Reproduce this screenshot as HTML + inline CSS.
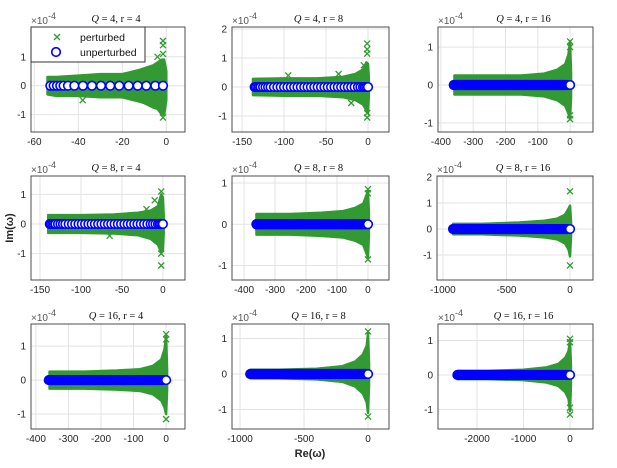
<!DOCTYPE html>
<html><head><meta charset="utf-8"><style>
body{margin:0;background:#fff}
svg{display:block;font-family:"Liberation Sans",sans-serif}
</style></head><body>
<svg id="chart" width="617" height="468" viewBox="0 0 617 468"></svg>
<script>
// ---- data (Im in units of 1e-4) ----
const titles = ["4, r = 4","4, r = 8","4, r = 16","8, r = 4","8, r = 8","8, r = 16","16, r = 4","16, r = 8","16, r = 16"];
const p1Unpert = [-52.7,-51.2,-49.7,-48.2,-46.7,-44.7,-41.8,-37.9,-33.8,-29.7,-25.5,-21.4,-17.1,-13,-9.1,-5,-1.5];
const p2Unpert = [-135,-134,-132,-130,-128,-125,-122,-119,-116,-112,-108,-104,-100,-96,-92,-88,-84,-80,-76,-72,-68,-64,-60,-56,-52,-48,-44,-40,-36,-32,-28,-24,-20,-16,-12,-9,-6,-4,-2,0];
const p3Unpert = [-360,-350,-340,-330,-320,-310,-300,-290,-280,-270,-260,-250,-240,-230,-220,-210,-200,-190,-180,-170,-160,-150,-140,-130,-120,-110,-100,-90,-80,-70,-60,-50,-40,-30,-20,-10,0];
const p4Unpert = [-138,-137,-135,-133,-131,-128,-125,-122,-119,-115,-111,-107,-103,-99,-95,-91,-87,-83,-79,-75,-71,-67,-63,-59,-55,-51,-47,-43,-39,-35,-31,-27,-23,-19,-15,-12,-9,-6,-4,-2,0];
const p5Unpert = [-360,-350,-340,-330,-320,-310,-300,-290,-280,-270,-260,-250,-240,-230,-220,-210,-200,-190,-180,-170,-160,-150,-140,-130,-120,-110,-100,-90,-80,-70,-60,-50,-40,-30,-20,-10,0];
const p6Unpert = [-920,-890,-860,-830,-800,-770,-740,-710,-680,-650,-620,-590,-560,-530,-500,-470,-440,-410,-380,-350,-320,-290,-260,-230,-200,-170,-140,-110,-80,-50,-20,0];
const p7Unpert = [-360,-350,-340,-330,-320,-310,-300,-290,-280,-270,-260,-250,-240,-230,-220,-210,-200,-190,-180,-170,-160,-150,-140,-130,-120,-110,-100,-90,-80,-70,-60,-50,-40,-30,-20,-10,0];
const p8Unpert = [-920,-890,-860,-830,-800,-770,-740,-710,-680,-650,-620,-590,-560,-530,-500,-470,-440,-410,-380,-350,-320,-290,-260,-230,-200,-170,-140,-110,-80,-50,-20,0];
const p9Unpert = [-2420,-2340,-2260,-2180,-2100,-2020,-1940,-1860,-1780,-1700,-1620,-1540,-1460,-1380,-1300,-1220,-1140,-1060,-980,-900,-820,-740,-660,-580,-500,-420,-340,-260,-180,-100,-40,0];
const p1EnvX = [-54,-50,-40,-30,-20,-12,-10,-6,-4,-2,-1,0];
const p1EnvTop = [0.3,0.3,0.35,0.4,0.4,0.55,0.6,0.7,0.8,0.9,0.9,0.5];
const p1EnvBot = [-0.3,-0.35,-0.35,-0.4,-0.4,-0.55,-0.6,-0.75,-0.8,-1.0,-1.0,-0.5];
const p2EnvX = [-137,-100,-60,-30,-15,-6,-2,0,1];
const p2EnvTop = [0.28,0.3,0.3,0.35,0.45,0.6,0.85,0.8,0.3];
const p2EnvBot = [-0.28,-0.3,-0.3,-0.35,-0.45,-0.6,-0.8,-0.9,-0.3];
const p3EnvX = [-358,-250,-150,-80,-40,-15,-5,0,3];
const p3EnvTop = [0.25,0.25,0.25,0.3,0.4,0.55,0.8,1.15,0.3];
const p3EnvBot = [-0.25,-0.25,-0.25,-0.3,-0.4,-0.55,-0.75,-0.9,-0.3];
const p4EnvX = [-140,-100,-60,-30,-15,-6,-2,0,1];
const p4EnvTop = [0.3,0.3,0.32,0.38,0.45,0.6,1.0,0.9,0.3];
const p4EnvBot = [-0.3,-0.3,-0.32,-0.38,-0.5,-0.7,-0.95,-0.9,-0.3];
const p5EnvX = [-360,-250,-150,-80,-40,-15,-5,0,3];
const p5EnvTop = [0.25,0.25,0.28,0.32,0.4,0.5,0.7,0.8,0.3];
const p5EnvBot = [-0.25,-0.25,-0.28,-0.32,-0.4,-0.5,-0.7,-0.8,-0.3];
const p6EnvX = [-920,-700,-400,-200,-100,-40,-10,0,8];
const p6EnvTop = [0.2,0.2,0.25,0.32,0.4,0.55,0.8,0.9,0.3];
const p6EnvBot = [-0.2,-0.2,-0.25,-0.32,-0.4,-0.55,-0.8,-1.05,-0.3];
const p7EnvX = [-358,-250,-150,-80,-40,-15,-5,0,3];
const p7EnvTop = [0.25,0.25,0.28,0.32,0.42,0.6,0.9,1.3,0.3];
const p7EnvBot = [-0.25,-0.25,-0.28,-0.32,-0.42,-0.6,-0.8,-1.0,-0.3];
const p8EnvX = [-920,-700,-400,-200,-100,-40,-10,0,8];
const p8EnvTop = [0.12,0.12,0.15,0.22,0.35,0.55,0.8,1.15,0.3];
const p8EnvBot = [-0.12,-0.12,-0.15,-0.22,-0.35,-0.55,-0.8,-1.1,-0.3];
const p9EnvX = [-2420,-1800,-1000,-500,-250,-100,-30,0,20];
const p9EnvTop = [0.12,0.12,0.15,0.22,0.32,0.5,0.7,1.0,0.3];
const p9EnvBot = [-0.12,-0.12,-0.15,-0.22,-0.32,-0.5,-0.7,-1.05,-0.3];
const p1OutX = [-1.5,-1.5,-1.5,-1.5,-38,-4,-4]; const p1OutY = [1.55,1.4,1.1,-1.1,-0.5,-0.6,1.0];
const p2OutX = [-1,-1,-1,-1,-1,-95,-20,-35,-5]; const p2OutY = [1.5,1.3,1.15,-1.05,-0.9,0.4,-0.55,0.45,0.75];
const p3OutX = [0,0,0,0]; const p3OutY = [1.15,1.0,-0.9,-0.8];
const p4OutX = [-2,-2,-2,-20,-65,-10]; const p4OutY = [1.1,-1.0,-1.4,0.5,-0.4,0.8];
const p5OutX = [0,0,0]; const p5OutY = [0.85,0.75,-0.85];
const p6OutX = [0,0]; const p6OutY = [1.45,-1.4];
const p7OutX = [0,0,0]; const p7OutY = [1.35,1.2,-1.15];
const p8OutX = [0,0]; const p8OutY = [1.2,-1.2];
const p9OutX = [0,0,0,0]; const p9OutY = [1.05,0.95,-1.15,-0.95];
const p1XTicks=[-60,-40,-20,0], p2XTicks=[-150,-100,-50,0], p3XTicks=[-400,-300,-200,-100,0];
const p4XTicks=[-150,-100,-50,0], p5XTicks=[-400,-300,-200,-100,0], p6XTicks=[-1000,-500,0];
const p7XTicks=[-400,-300,-200,-100,0], p8XTicks=[-1000,-500,0], p9XTicks=[-2000,-1000,0];
const p1YTicks=[-1,0,1], p2YTicks=[-1,0,1,2], p3YTicks=[-1,0,1], p4YTicks=[-1,0,1], p5YTicks=[-1,0,1], p6YTicks=[-1,0,1,2], p7YTicks=[-1,0,1], p8YTicks=[-1,0,1], p9YTicks=[-1,0,1];

// ---- layout ----
const boxes=[[31,185,27,132],[232,389,27,132],[438,593,27,132],[31,185,176,280],[232,389,176,280],[437,593,176,280],[31,185,324,429],[232,389,324,429],[438,593,324,429]];
const xlims=[[-61.5,8.5],[-162,25],[-409,71],[-161,27],[-439,68],[-1047,181],[-415,58],[-1063,164],[-2839,495]];
const ylims=[[-1.6,2.03],[-1.55,2.07],[-1.24,1.53],[-1.89,1.62],[-1.35,1.17],[-1.96,2.04],[-1.44,1.65],[-1.55,1.41],[-1.57,1.48]];
const solidBand=[false,false,true,false,true,true,true,true,true];
const panels=[
 [p1Unpert,p1EnvX,p1EnvTop,p1EnvBot,p1OutX,p1OutY,p1XTicks,p1YTicks],
 [p2Unpert,p2EnvX,p2EnvTop,p2EnvBot,p2OutX,p2OutY,p2XTicks,p2YTicks],
 [p3Unpert,p3EnvX,p3EnvTop,p3EnvBot,p3OutX,p3OutY,p3XTicks,p3YTicks],
 [p4Unpert,p4EnvX,p4EnvTop,p4EnvBot,p4OutX,p4OutY,p4XTicks,p4YTicks],
 [p5Unpert,p5EnvX,p5EnvTop,p5EnvBot,p5OutX,p5OutY,p5XTicks,p5YTicks],
 [p6Unpert,p6EnvX,p6EnvTop,p6EnvBot,p6OutX,p6OutY,p6XTicks,p6YTicks],
 [p7Unpert,p7EnvX,p7EnvTop,p7EnvBot,p7OutX,p7OutY,p7XTicks,p7YTicks],
 [p8Unpert,p8EnvX,p8EnvTop,p8EnvBot,p8OutX,p8OutY,p8XTicks,p8YTicks],
 [p9Unpert,p9EnvX,p9EnvTop,p9EnvBot,p9OutX,p9OutY,p9XTicks,p9YTicks]];

const NS="http://www.w3.org/2000/svg";
const svg=document.getElementById('chart');
function mk(tag,attrs,parent){const e=document.createElementNS(NS,tag);for(const k in attrs)e.setAttribute(k,attrs[k]);(parent||svg).appendChild(e);return e;}
const GREEN="#339933", BLUE="#0000ff";
function drawX(g,cx,cy,s){return mk('path',{d:`M${cx-s},${cy-s}L${cx+s},${cy+s}M${cx-s},${cy+s}L${cx+s},${cy-s}`,stroke:GREEN,'stroke-width':1.3,fill:'none'},g);}

panels.forEach((pd,i)=>{
 const [L,R,T,B]=boxes[i], xl=xlims[i], yl=ylims[i];
 const sx=v=>L+(v-xl[0])/(xl[1]-xl[0])*(R-L);
 const sy=v=>B-(v-yl[0])/(yl[1]-yl[0])*(B-T);
 const g=mk('g',{});
 
 
 const [un,ex,et,eb,ox,oy,xt,yt]=pd;
 xt.forEach(v=>{const l=mk('line',{x1:sx(v),x2:sx(v),y1:T,y2:B,stroke:'#e3e3e3','stroke-width':1},g);});
 yt.forEach(v=>{const l=mk('line',{x1:L,x2:R,y1:sy(v),y2:sy(v),stroke:'#e3e3e3','stroke-width':1},g);});
 let d='M'+ex.map((v,k)=>sx(v)+','+sy(et[k])).join('L');
 for(let k=ex.length-1;k>=0;k--) d+='L'+sx(ex[k])+','+sy(eb[k]);
 const env=mk('path',{d:d+'Z',fill:GREEN,stroke:GREEN,'stroke-width':2.5,'stroke-linejoin':'round'},g);
 
 
 ox.forEach((v,k)=>{const p=drawX(g,sx(v),sy(oy[k]),3);});
 const last=un.length-1;
 un.forEach((v,k)=>{ if(k===last) return; const c=mk('circle',{cx:sx(v),cy:sy(0),r:4.3,fill:'#fff',stroke:BLUE,'stroke-width':1.6},g);});
 if(solidBand[i]){
   const x0=sx(Math.min(...un)), x1=sx(un[last-1]);
   const b=mk('rect',{x:x0-5.1,y:sy(0)-5.1,width:x1-x0+10.2,height:10.2,rx:5.1,fill:BLUE},g);
   
   
 }
 const lc=mk('circle',{cx:sx(un[last]),cy:sy(0),r:4.3,fill:'#fff',stroke:BLUE,'stroke-width':1.6},g);
 
 
 const bx=mk('rect',{x:L,y:T,width:R-L,height:B-T,fill:'none',stroke:'#4d4d4d','stroke-width':1},g);
 
 
 xt.forEach(v=>{const t=mk('text',{x:sx(v),y:B+13,'text-anchor':'middle','font-size':10,fill:'#262626'},g);t.textContent=v;});
 yt.forEach(v=>{const t=mk('text',{x:L-5,y:sy(v)+3.5,'text-anchor':'end','font-size':10,fill:'#262626'},g);t.textContent=v;});
 const ex1=mk('text',{x:L,y:T-3,'font-size':10,fill:'#555'},g);
 ex1.innerHTML='×10<tspan dy="-5" font-size="9">-4</tspan>';
 
 
 const tt=mk('text',{x:(L+R)/2+8,y:T-5,'text-anchor':'middle','font-size':10.5,fill:'#111','font-family':'Liberation Serif, serif'},g);
 tt.innerHTML='<tspan font-style="italic">Q</tspan> = '+titles[i];
 
 
});
const lg=mk('g',{});


mk('rect',{x:31,y:27,width:114,height:35,fill:'#fff',stroke:'#333','stroke-width':1},lg);
const lx=drawX(lg,57,37,3);


const lcc=mk('circle',{cx:56,cy:52,r:4.3,fill:'#fff',stroke:BLUE,'stroke-width':1.6},lg);


const lt1=mk('text',{x:80,y:41,'font-size':10.5,fill:'#111'},lg);lt1.textContent='perturbed';


const lt2=mk('text',{x:80,y:56,'font-size':10.5,fill:'#111'},lg);lt2.textContent='unperturbed';


const yl=mk('text',{x:0,y:0,transform:'translate(13,228) rotate(-90)','text-anchor':'middle','font-size':11,'font-weight':'bold',fill:'#262626'});
yl.textContent='Im(ω)';


const xlb=mk('text',{x:310,y:457,'text-anchor':'middle','font-size':11,'font-weight':'bold',fill:'#262626'});
xlb.textContent='Re(ω)';


</script>
</body></html>
